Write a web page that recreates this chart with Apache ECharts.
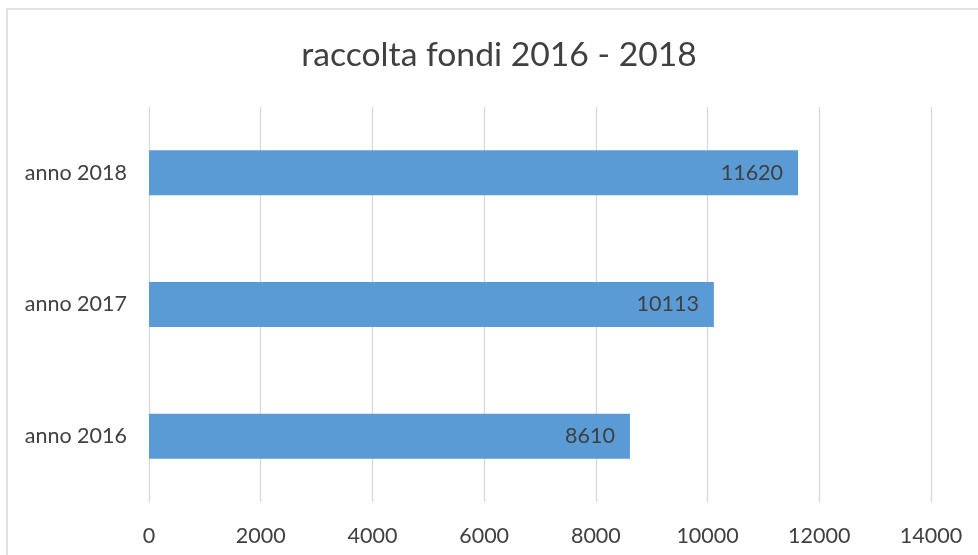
<!DOCTYPE html>
<html>
<head>
<meta charset="utf-8">
<script src="https://cdn.jsdelivr.net/npm/echarts@6/dist/echarts.min.js"></script>
<style>
html,body{margin:0;padding:0;background:#fff;}
#c{width:978px;height:555px;}
</style>
</head>
<body>
<div id="c"></div>
<script>
const titleText = 'raccolta fondi 2016 - 2018';
const categories = ['anno 2016', 'anno 2017', 'anno 2018'];
const values = [8610, 10113, 11620];
const xTicks = { min: 0, max: 14000, interval: 2000 };

const FONT = 'Lato';
const chart = echarts.init(document.getElementById('c'), null, { renderer: 'canvas' });
chart.setOption({
  backgroundColor: '#ffffff',
  animation: false,
  title: {
    text: titleText,
    left: 494,
    top: 33,
    textAlign: 'center',
    textStyle: { fontFamily: FONT, fontSize: 33.7, fontWeight: 'normal', color: '#404040' }
  },
  graphic: [{
    type: 'rect',
    shape: { x: 7, y: 9, width: 990, height: 570 },
    style: { fill: 'none', stroke: '#d9d9d9', lineWidth: 1.5 },
    silent: true
  }],
  grid: { left: 149, right: 47, top: 107, bottom: 53, containLabel: false },
  xAxis: {
    type: 'value',
    min: xTicks.min,
    max: xTicks.max,
    interval: xTicks.interval,
    axisLine: { show: false },
    axisTick: { show: false },
    splitLine: { show: true, lineStyle: { color: '#d9d9d9', width: 1.3 } },
    axisLabel: { margin: 23, fontFamily: FONT, fontSize: 21.5, color: '#404040', formatter: v => String(v) }
  },
  yAxis: {
    type: 'category',
    data: categories,
    axisLine: { show: false },
    axisTick: { show: false },
    splitLine: { show: false },
    axisLabel: { margin: 22, fontFamily: FONT, fontSize: 21.5, color: '#404040' }
  },
  series: [{
    type: 'bar',
    data: values,
    barWidth: 45,
    itemStyle: { color: '#5B9BD5' },
    label: {
      show: true,
      position: 'insideRight',
      distance: 15,
      fontFamily: FONT,
      fontSize: 21.5,
      color: '#404040'
    }
  }]
});
</script>
</body>
</html>
